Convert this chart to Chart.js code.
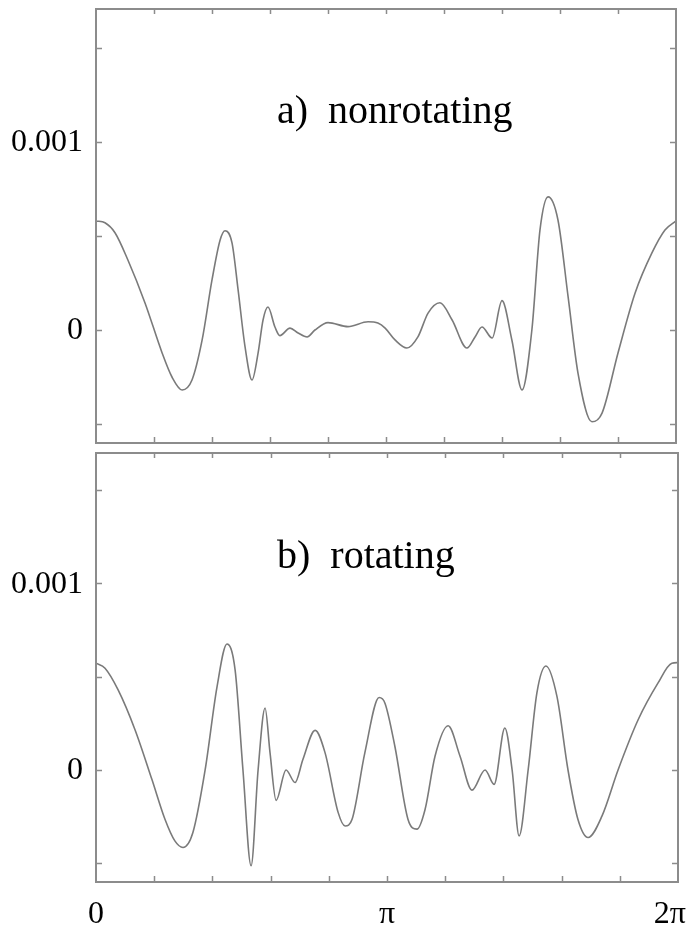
<!DOCTYPE html>
<html>
<head>
<meta charset="utf-8">
<script src="https://cdn.jsdelivr.net/npm/chart.js@4/dist/chart.umd.min.js"></script>
<style>
  body { margin: 0; background: #fff; width: 691px; height: 935px; overflow: hidden; position: relative; }
  canvas { position: absolute; left: 0; }
  #topChart { top: 0; }
  #bottomChart { top: 450px; }
</style>
</head>
<body>
<canvas id="topChart" width="691" height="450" style="width:691px;height:450px"></canvas>
<canvas id="bottomChart" width="691" height="485" style="width:691px;height:485px"></canvas>
<script>
// angle in units of pi (0 .. 2)
const thetaA = [0, 0.031, 0.066, 0.110, 0.169, 0.228, 0.262, 0.297, 0.331, 0.366,
  0.400, 0.428, 0.445, 0.469, 0.490, 0.514, 0.538, 0.559, 0.576, 0.593,
  0.617, 0.634, 0.669, 0.697, 0.728, 0.755, 0.800, 0.869, 0.938, 0.972,
  0.997, 1.031, 1.072, 1.110, 1.145, 1.186, 1.228, 1.279, 1.307, 1.331,
  1.366, 1.400, 1.434, 1.469, 1.503, 1.531, 1.559, 1.593, 1.628, 1.662,
  1.710, 1.745, 1.800, 1.859, 1.917, 1.962, 2.0];
const nonrotating = [0.000580, 0.000570, 0.000516, 0.000372, 0.000144, -0.000122, -0.000250, -0.000319, -0.000266, -0.000053,
  0.000266, 0.000479, 0.000528, 0.000463, 0.000213, -0.000090, -0.000266, -0.000122, 0.000053, 0.000122,
  0.000016, -0.000030, 0.000010, -0.000016, -0.000037, 0.000000, 0.000039, 0.000018, 0.000044, 0.000037,
  0.000010, -0.000053, -0.000096, -0.000037, 0.000090, 0.000145, 0.000053, -0.000096, -0.000037, 0.000016,
  -0.000043, 0.000156, -0.000053, -0.000319, 0.000000, 0.000532, 0.000708, 0.000585, 0.000176, -0.000229,
  -0.000488, -0.000442, -0.000122, 0.000197, 0.000410, 0.000532, 0.000580];

const thetaB = [0, 0.031, 0.076, 0.134, 0.192, 0.237, 0.271, 0.299, 0.333, 0.375,
  0.416, 0.450, 0.478, 0.505, 0.533, 0.557, 0.581, 0.598, 0.619, 0.653,
  0.684, 0.711, 0.753, 0.787, 0.832, 0.856, 0.880, 0.924, 0.973, 0.993,
  1.027, 1.072, 1.103, 1.131, 1.165, 1.210, 1.251, 1.292, 1.337, 1.368,
  1.405, 1.430, 1.454, 1.485, 1.515, 1.546, 1.584, 1.622, 1.656, 1.691,
  1.739, 1.794, 1.863, 1.931, 1.979, 2.0];
const rotating = [0.000572, 0.000545, 0.000429, 0.000216, -0.000050, -0.000264, -0.000380, -0.000415, -0.000335, 0.000000,
  0.000447, 0.000675, 0.000536, 0.000000, -0.000513, 0.000000, 0.000332, 0.000093, -0.000163, 0.000000,
  -0.000067, 0.000056, 0.000212, 0.000093, -0.000227, -0.000300, -0.000264, 0.000093, 0.000388, 0.000358,
  0.000127, -0.000264, -0.000317, -0.000210, 0.000074, 0.000237, 0.000074, -0.000108, 0.000000, -0.000077,
  0.000225, 0.000000, -0.000353, 0.000000, 0.000412, 0.000557, 0.000394, 0.000000, -0.000264, -0.000362,
  -0.000246, 0.000000, 0.000269, 0.000465, 0.000572, 0.000575];

const xTicks = [0.2, 0.4, 0.6, 0.8, 1.0, 1.2, 1.4, 1.6, 1.8];
const yTicks = [-0.0005, 0, 0.0005, 0.001, 0.0015];
const yLabelValues = [0, 0.001];
const yLabelTexts = ['0', '0.001'];
const xLabelValues = [0, 1, 2];
const xLabelTexts = ['0', 'π', '2π'];

const frameColor = '#8c8c8c';
const lineColor = '#7a7a7a';
const serif = '"Liberation Serif", "Times New Roman", serif';

const framePlugin = {
  id: 'frame',
  afterDraw(chart, args, opts) {
    const { ctx, chartArea: a, scales: { x, y } } = chart;
    ctx.save();
    ctx.strokeStyle = frameColor;
    ctx.lineWidth = 2;
    ctx.strokeRect(a.left, a.top, a.right - a.left, a.bottom - a.top);

    // inward tick marks
    ctx.lineWidth = 1.5;
    ctx.beginPath();
    xTicks.forEach(v => {
      const px = Math.round(x.getPixelForValue(v)) + 0.5;
      ctx.moveTo(px, a.bottom); ctx.lineTo(px, a.bottom - 6);
      ctx.moveTo(px, a.top); ctx.lineTo(px, a.top + 5);
    });
    yTicks.forEach(v => {
      const py = Math.round(y.getPixelForValue(v)) + 0.5;
      ctx.moveTo(a.left, py); ctx.lineTo(a.left + 6, py);
      ctx.moveTo(a.right, py); ctx.lineTo(a.right - 6, py);
    });
    ctx.stroke();

    // y labels
    ctx.fillStyle = '#000';
    ctx.font = '32px ' + serif;
    ctx.textAlign = 'right';
    ctx.textBaseline = 'middle';
    yLabelValues.forEach((v, i) => {
      ctx.fillText(yLabelTexts[i], 83, y.getPixelForValue(v) + 1);
    });

    // panel title
    ctx.textAlign = 'left';
    ctx.textBaseline = 'alphabetic';
    ctx.font = '40px ' + serif;
    ctx.fillText(opts.title, 277, opts.titleY);

    // x labels (bottom panel only)
    if (opts.xLabels) {
      ctx.font = '32px ' + serif;
      xLabelValues.forEach((v, i) => {
        let px = x.getPixelForValue(v);
        if (i === xLabelValues.length - 1) { ctx.textAlign = 'right'; px = a.right + 8; }
        else ctx.textAlign = 'center';
        ctx.fillText(xLabelTexts[i], px, a.bottom + 41);
      });
    }
    ctx.restore();
  }
};

function makePanel(id, theta, values, yMin, yMax, padding, title, titleY, xLabels) {
  new Chart(document.getElementById(id), {
    type: 'line',
    data: {
      datasets: [{
        data: theta.map((t, i) => ({ x: t, y: values[i] })),
        borderColor: lineColor,
        borderWidth: 1.6,
        pointRadius: 0,
        fill: false,
        cubicInterpolationMode: 'monotone'
      }]
    },
    options: {
      responsive: false,
      animation: false,
      layout: { padding: padding },
      scales: {
        x: { type: 'linear', min: 0, max: 2, display: false },
        y: { type: 'linear', min: yMin, max: yMax, display: false }
      },
      plugins: {
        legend: { display: false },
        tooltip: { enabled: false },
        frame: { title: title, titleY: titleY, xLabels: xLabels }
      }
    },
    plugins: [framePlugin]
  });
}

makePanel('topChart', thetaA, nonrotating, -0.000601, 0.001707,
  { left: 96, right: 15, top: 9, bottom: 7 }, 'a)  nonrotating', 123, false);
makePanel('bottomChart', thetaB, rotating, -0.0006, 0.001698,
  { left: 96, right: 13, top: 3, bottom: 53 }, 'b)  rotating', 118, true);
</script>
</body>
</html>
